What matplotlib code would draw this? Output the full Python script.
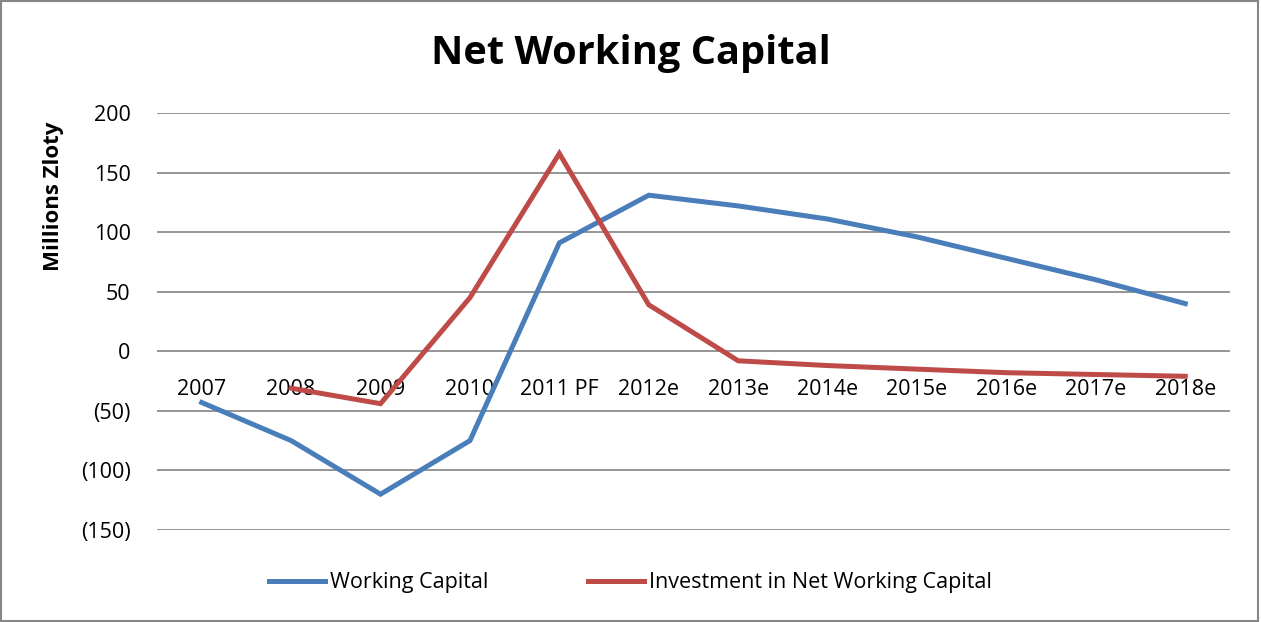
import matplotlib
matplotlib.use("Agg")
import matplotlib.pyplot as plt
import matplotlib.patches as pp
from matplotlib.ticker import FuncFormatter

years = ["2007", "2008", "2009", "2010", "2011 PF", "2012e", "2013e",
         "2014e", "2015e", "2016e", "2017e", "2018e"]
working_capital = [-43, -75, -120, -75, 91, 131, 122, 111, 96, 78, 60, 40]
# no value for 2007
investment_nwc = [None, -31, -44, 45, 166, 39, -8, -12, -15, -18, -19.5, -21]

BLUE = "#4a7ebb"
RED = "#be4b48"

plt.rcParams["font.family"] = ["Open Sans", "DejaVu Sans"]

fig = plt.figure(figsize=(12.61, 6.22), dpi=100)
ax = fig.add_axes([0.1245, 0.148, 0.8509, 0.6703])

x = list(range(len(years)))
ax.plot(x, working_capital, color=BLUE, lw=3.6, solid_joinstyle="miter",
        label="Working Capital")
xi = [i for i, v in zip(x, investment_nwc) if v is not None]
yi = [v for v in investment_nwc if v is not None]
ax.plot(xi, yi, color=RED, lw=3.6, solid_joinstyle="miter",
        label="Investment in Net Working Capital")

ax.set_xlim(-0.5, len(years) - 0.5)
ax.set_ylim(-150, 200)
ax.set_yticks(range(-150, 201, 50))
ax.yaxis.set_major_formatter(FuncFormatter(
    lambda v, p: "(%d)" % abs(v) if v < 0 else "%d" % v))
ax.grid(axis="y", color="#8c8c8c", lw=1.3)
ax.set_axisbelow(True)

# category labels sit on the zero line
ax.spines["bottom"].set_position(("data", 0))
for s in ["top", "right", "left", "bottom"]:
    ax.spines[s].set_visible(False)
ax.set_xticks(x)
ax.set_xticklabels(years)
ax.tick_params(axis="x", length=0, pad=20, labelsize=15.5)
ax.tick_params(axis="y", length=0, pad=19, labelsize=15.5)

ax.set_ylabel("Millions Zloty", fontsize=16, fontweight="bold")
ax.yaxis.set_label_coords(-0.087, 0.80)

fig.suptitle("Net Working Capital", x=0.5, y=0.945, fontsize=28.6,
             fontweight="bold")

fig.legend(loc="center", bbox_to_anchor=(0.5, 0.063), ncol=2, frameon=False,
           fontsize=15.5, handlelength=2.6, handletextpad=0.25,
           columnspacing=4.6)

fig.patches.append(pp.Rectangle((0.001, 0.001), 0.997, 0.997,
                                transform=fig.transFigure, fill=False,
                                edgecolor="#868686", lw=1.5))

fig.savefig("out.png", dpi=100)
